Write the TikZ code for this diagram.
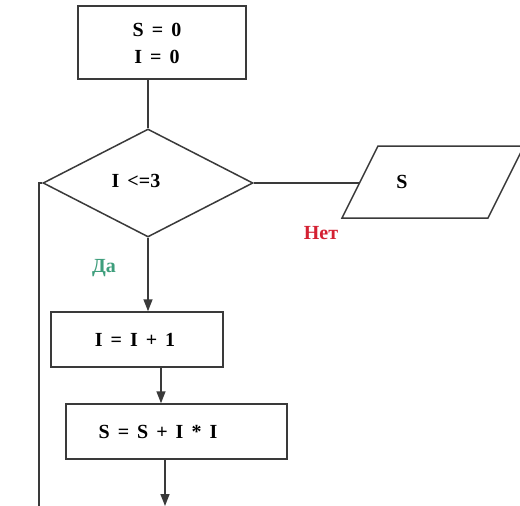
\documentclass[tikz,border=0pt]{standalone}
\usepackage{fontspec}
\setmainfont{Liberation Serif}[WordSpace=1.6]
\usetikzlibrary{shapes.geometric,arrows.meta}
\definecolor{linec}{HTML}{3A3A3A}
\definecolor{netc}{HTML}{D42032}
\definecolor{dac}{HTML}{3E9E7C}
\tikzset{
  ln/.style={draw=linec, line width=1.5pt},
  arr/.style={ln, -{Triangle[length=12pt,width=9pt]}},
  box/.style={ln, rectangle, inner sep=0pt},
  txt/.style={font=\fontsize{20pt}{23pt}\selectfont\bfseries, text=black, inner sep=0pt, align=center},
}
\begin{document}
\begin{tikzpicture}[x=1pt,y=-1pt]
\useasboundingbox (0,0) rectangle (520,506);
\clip (0,0) rectangle (520,506);
\fill[white] (0,0) rectangle (520,506);
% boxes
\node[box, minimum width=168pt, minimum height=73pt] (b1) at (162,42.5) {};
\node[txt] (t1) at (157,43) {S = 0\\[4pt]I = 0};
\node[ln, diamond, minimum width=210pt, minimum height=108pt, inner sep=0pt] (d) at (148,183) {};
\node[txt] (td) at (136,181) {I <=3};
\node[box, minimum width=172pt, minimum height=55pt] (b2) at (137,339.5) {};
\node[txt] (t2) at (135,340) {I = I + 1};
\node[box, minimum width=221pt, minimum height=55pt] (b3) at (176.5,431.5) {};
\node[txt] (t3) at (158,432) {S = S + I * I};
% output parallelogram
\draw[ln] (342,218) -- (378,146) -- (524,146) -- (488,218) -- cycle;
\node[txt] (out) at (402,182) {S};
\coordinate (pin) at (360,183);
% labels
\node[txt, text=netc] (no) at (321,233) {Нет};
\node[txt, text=dac] (yes) at (104,268) {Да};
% connectors
\draw[ln] (b1.south -| d.north) -- (d.north);
\draw[ln] (d.east) -- (pin);
\draw[arr] (d.south) -- (d.south |- b2.north);
\draw[arr] ([xshift=24pt]b2.south) -- ([xshift=24pt]b2.south |- b3.north);
\coordinate (endp) at (165,506);
\draw[arr] (b3.south -| endp) -- (endp);
\coordinate (loopb) at (39,506);
\draw[ln] (d.west) -- (d.west -| loopb) -- (loopb);
\end{tikzpicture}
\end{document}
